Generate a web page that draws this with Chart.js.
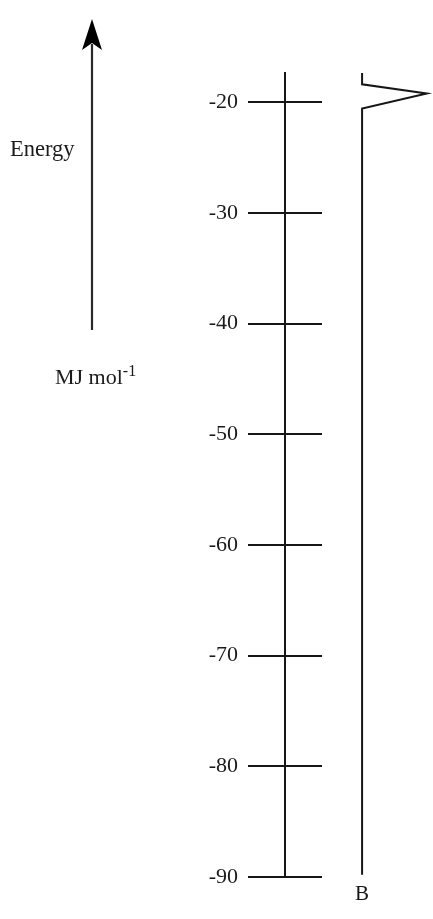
<!DOCTYPE html>
<html>
<head>
<meta charset="utf-8">
<script src="https://cdn.jsdelivr.net/npm/chart.js@4/dist/chart.umd.min.js"></script>
<style>
  html, body { margin: 0; padding: 0; background: #fff; }
  #wrap { position: relative; width: 433px; height: 919px; }
  canvas { position: absolute; left: 0; top: 0; }
  .lbl { position: absolute; font-family: 'Liberation Serif', 'Times New Roman', serif; color: #1a1a1a; line-height: 22px; white-space: nowrap; }
  .sup { position: relative; top: -8px; font-size: 16px; }
</style>
</head>
<body>
<div id="wrap">
  <canvas id="c" width="433" height="919"></canvas>
  <div class="lbl" style="left:10px; top:138px; font-size:22.5px;">Energy</div>
  <div class="lbl" style="left:55px; top:366px; font-size:22px;">MJ mol<span class="sup">-1</span></div>
</div>
<script>
// ---- data ----
const tickValues = [-20, -30, -40, -50, -60, -70, -80, -90];
const seriesLabel = 'B';
const seriesX = [1, 1, 1.84, 1, 1];              // column of series B (zigzag = axis break)
const seriesY = [-89.8, -20.57, -19.21, -18.37, -17.35];
const yMin = -90, yMax = -17.35;

const points = seriesX.map((x, i) => ({ x: x, y: seriesY[i] }));
const ink = '#161616';
const serif = "'Liberation Serif', 'Times New Roman', serif";

const extras = {
  id: 'extras',
  afterDraw(chart) {
    const ctx = chart.ctx;
    const xs = chart.scales.x, ys = chart.scales.y;
    // series label under line B
    ctx.save();
    ctx.fillStyle = ink;
    ctx.font = "21px " + serif;
    ctx.textAlign = 'center';
    ctx.textBaseline = 'alphabetic';
    ctx.fillText(seriesLabel, xs.getPixelForValue(seriesX[0]), ys.getPixelForValue(yMin) + 23);
    // energy arrow (decoration)
    ctx.strokeStyle = '#2a2a2a';
    ctx.lineWidth = 2.2;
    ctx.beginPath();
    ctx.moveTo(92, 330);
    ctx.lineTo(92, 44);
    ctx.stroke();
    ctx.fillStyle = '#000';
    ctx.beginPath();
    ctx.moveTo(92, 19);
    ctx.lineTo(102, 50);
    ctx.lineTo(92, 43);
    ctx.lineTo(82, 50);
    ctx.closePath();
    ctx.fill();
    ctx.restore();
  }
};

new Chart(document.getElementById('c'), {
  type: 'scatter',
  data: {
    datasets: [{
      label: seriesLabel,
      data: points,
      showLine: true,
      borderColor: ink,
      borderWidth: 2,
      pointRadius: 0,
      tension: 0,
      clip: false
    }]
  },
  options: {
    responsive: false,
    animation: false,
    devicePixelRatio: 1,
    layout: { padding: { top: 73, bottom: 42, left: 0, right: 111 } },
    plugins: { legend: { display: false }, tooltip: { enabled: false } },
    scales: {
      x: { type: 'linear', display: false, min: 0, max: 0.48 },
      y: {
        type: 'linear',
        position: 'left',
        min: yMin, max: yMax,
        afterFit(scale) { scale.width = 285; },
        afterBuildTicks(scale) { scale.ticks = tickValues.map(v => ({ value: v })); },
        border: { display: true, color: ink, width: 2 },
        grid: {
          display: true,
          drawOnChartArea: true,
          drawTicks: true,
          tickLength: 37,
          color: ink,
          lineWidth: 2,
          tickColor: ink,
          tickWidth: 2
        },
        ticks: {
          color: '#1a1a1a',
          padding: 10,
          font: { family: serif, size: 22 },
          callback: v => String(v)
        }
      }
    }
  },
  plugins: [extras]
});
</script>
</body>
</html>
